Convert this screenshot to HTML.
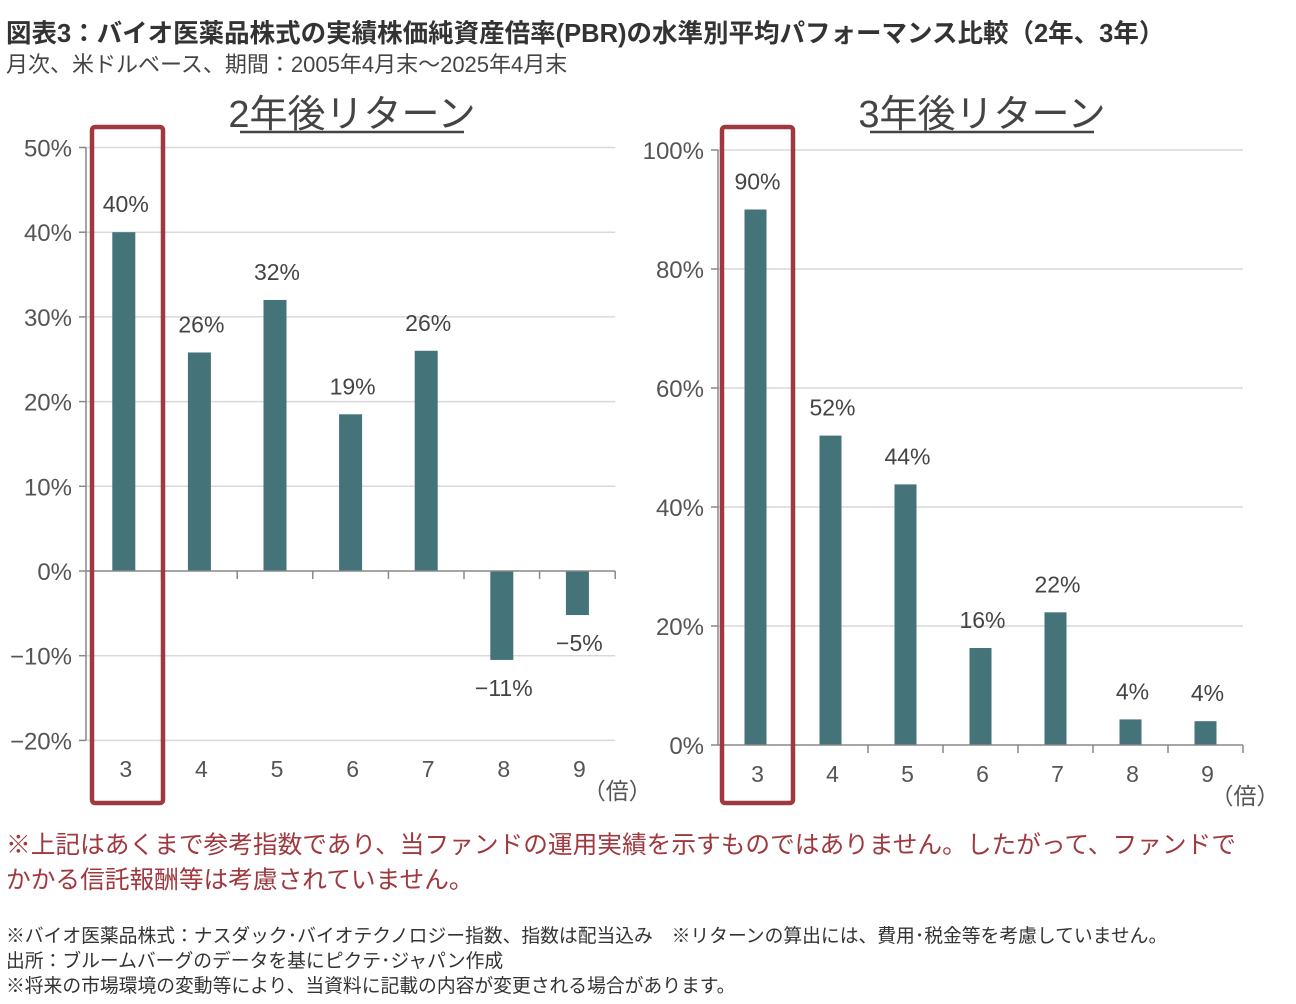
<!DOCTYPE html>
<html><head><meta charset="utf-8">
<style>
body{margin:0;background:#fff;width:1296px;height:1004px;overflow:hidden;font-family:"Liberation Sans","Noto Sans CJK JP",sans-serif;}
.t{position:absolute;white-space:nowrap;}
</style></head>
<body>
<div class="t" style="left:6px;top:13px;font-size:25.5px;font-weight:bold;color:#333;">図表3：バイオ医薬品株式の実績株価純資産倍率(PBR)の水準別平均パフォーマンス比較（2年、3年）</div>
<div class="t" style="left:6px;top:47px;font-size:22px;color:#444;">月次、米ドルベース、期間：2005年4月末～2025年4月末</div>
<svg id="svg" width="1296" height="1004" style="position:absolute;left:0;top:0"></svg>
<div class="t" style="left:6px;top:828px;font-size:24.7px;line-height:35px;color:#a0393f;">※上記はあくまで参考指数であり、当ファンドの運用実績を示すものではありません。したがって、ファンドで<br>かかる信託報酬等は考慮されていません。</div>
<div class="t" style="left:6px;top:923px;font-size:18.8px;line-height:25px;color:#333;">※バイオ医薬品株式：ナスダック･バイオテクノロジー指数、指数は配当込み　※リターンの算出には、費用･税金等を考慮していません。<br>出所：ブルームバーグのデータを基にピクテ･ジャパン作成<br>※将来の市場環境の変動等により、当資料に記載の内容が変更される場合があります。</div>
<script>
const categories=["3","4","5","6","7","8","9"];
const values2y=[40,25.8,32,18.5,26,-10.5,-5.2];
const labels2y=["40%","26%","32%","19%","26%","-11%","-5%"];
const ticks2y=[50,40,30,20,10,0,-10,-20];
const values3y=[90,52,43.8,16.3,22.3,4.3,4];
const labels3y=["90%","52%","44%","16%","22%","4%","4%"];
const ticks3y=[100,80,60,40,20,0];
const svg=document.getElementById('svg');
const NS='http://www.w3.org/2000/svg';
function mk(tag,attrs,name,text){const e=document.createElementNS(NS,tag);for(const k in attrs)e.setAttribute(k,attrs[k]);


if(text!==undefined)e.textContent=text;svg.appendChild(e);return e;}
function chart(o){
 const y=v=>o.y0-(v-o.zeroV)*o.pxPer;
 const x=i=>o.x0+o.step*(i+0.5);
 const ax0=o.x0, ax1=o.x0+o.step*categories.length;
 o.ticks.forEach(t=>{
  if(t!==0) mk('line',{x1:ax0,x2:ax1,y1:y(t),y2:y(t),stroke:'#d9d9d9','stroke-width':1.5},'gridline');
  mk('line',{x1:ax0-7,x2:ax0,y1:y(t),y2:y(t),stroke:'#888','stroke-width':1.5},'y-tick');
  mk('text',{x:ax0-14,y:y(t)+9,'text-anchor':'end','font-size':24,fill:'#555','font-family':'Liberation Sans, sans-serif'},'y-tick-label',(t<0?'−':'')+Math.abs(t)+'%');
 });
 mk('line',{x1:ax0,x2:ax0,y1:y(o.ticks[0]),y2:y(o.ticks[o.ticks.length-1]),stroke:'#888','stroke-width':1.5},'y-axis');
 o.vals.forEach((v,i)=>{
  const top=Math.min(y(v),y(0)),h=Math.abs(y(v)-y(0));
  mk('rect',{x:x(i)-o.bw/2,y:top,width:o.bw,height:h,fill:'#44737a'},'bar-'+categories[i]);
  const ly=v>=0?y(v)-20:y(v)+36;
  mk('text',{x:x(i)+2,y:ly,'text-anchor':'middle','font-size':23,fill:'#444','font-family':'Liberation Sans, sans-serif'},'value-label',o.labels[i].replace('-','−'));
  mk('text',{x:x(i)+2,y:o.catY,'text-anchor':'middle','font-size':23,fill:'#555'},'x-tick-label',categories[i]);
 });
 mk('line',{x1:ax0,x2:ax1,y1:y(0),y2:y(0),stroke:'#888','stroke-width':1.5},'x-axis');
 for(let i=1;i<=categories.length;i++) mk('line',{x1:ax0+o.step*i,x2:ax0+o.step*i,y1:y(0),y2:y(0)+8,stroke:'#888','stroke-width':1.5},'x-tick');
 mk('text',{x:ax1+2,y:o.catY+22,'font-size':23,fill:'#555','text-anchor':'middle','font-family':'Liberation Sans, Noto Sans CJK JP, sans-serif'},'x-unit-label','（倍）');
 mk('text',{x:o.titleX,y:127,'text-anchor':'middle','font-size':38,fill:'#444','font-family':'Liberation Sans, Noto Sans CJK JP, sans-serif'},'panel-title',o.title);
 mk('line',{x1:o.titleX-112,x2:o.titleX+112,y1:132,y2:132,stroke:'#444','stroke-width':2.5},'panel-title-underline');
 mk('rect',{x:o.boxX,y:127,width:71,height:676,rx:3,fill:'none',stroke:'#a0393f','stroke-width':4.5},'highlight-box');
}
chart({x0:86,step:75.6,y0:571,zeroV:0,pxPer:8.47,ticks:ticks2y,vals:values2y,labels:labels2y,bw:23,catY:777,title:'2年後リターン',titleX:352,boxX:92});
chart({x0:718,step:75,y0:745,zeroV:0,pxPer:5.95,ticks:ticks3y,vals:values3y,labels:labels3y,bw:22,catY:782,title:'3年後リターン',titleX:982,boxX:722});
</script>
</body></html>
